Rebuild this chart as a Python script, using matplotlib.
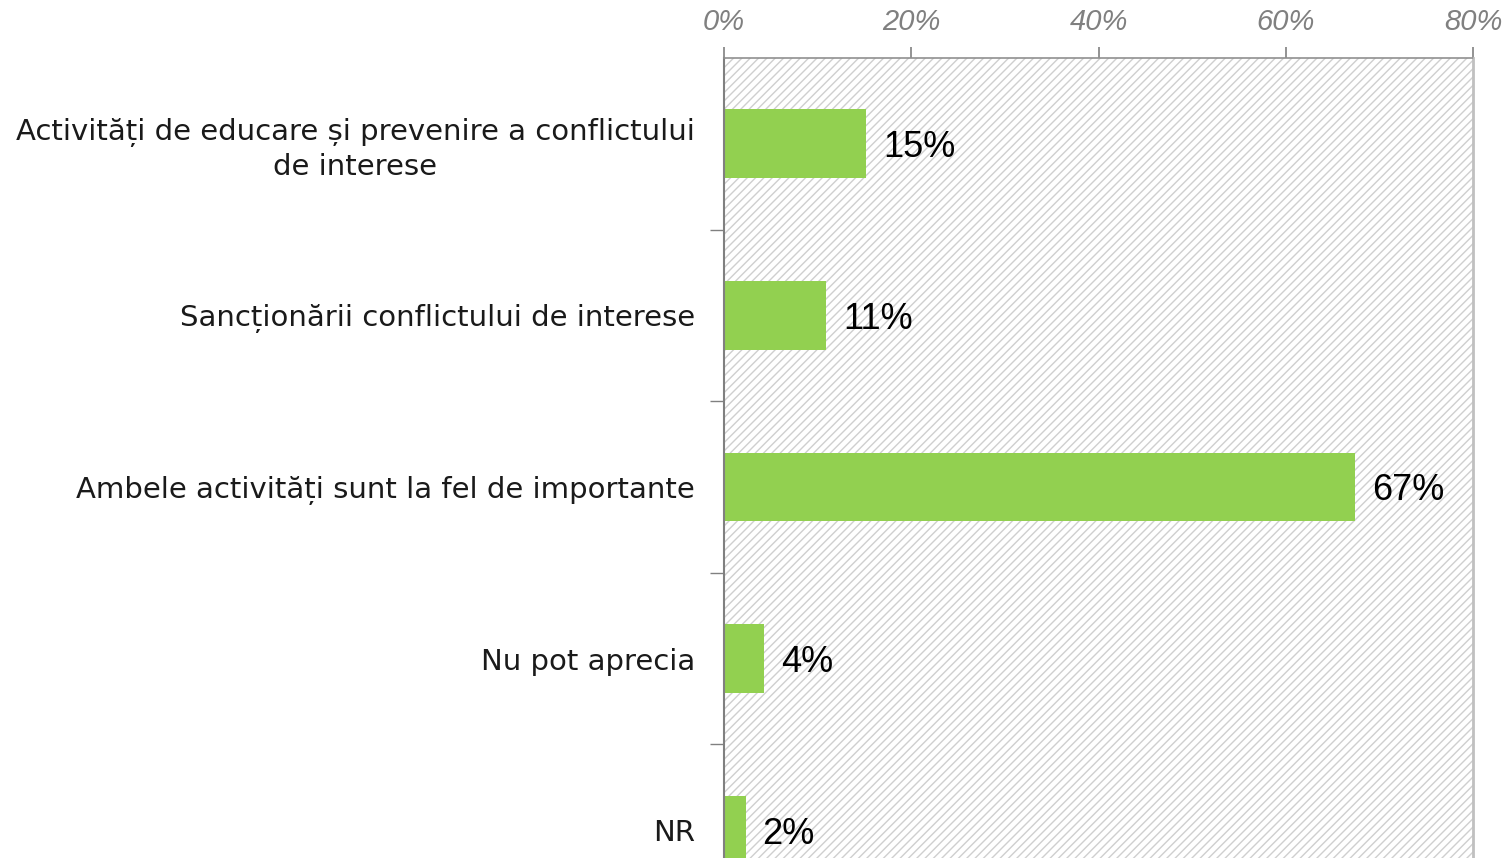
import numpy as np
import matplotlib.pyplot as plt
from matplotlib.patches import Rectangle

categories = ["Activități de educare și prevenire a conflictului\nde interese",
              "Sancționării conflictului de interese",
              "Ambele activități sunt la fel de importante",
              "Nu pot aprecia",
              "NR"]
values = [15.2, 10.9, 67.4, 4.3, 2.3]
labels = ["15%", "11%", "67%", "4%", "2%"]
xticks = [0, 20, 40, 60, 80]

plt.rcParams['hatch.color'] = '#cfcfcf'
plt.rcParams['hatch.linewidth'] = 1.0

fig = plt.figure(figsize=(15.1, 8.58), dpi=100)
ax = fig.add_axes([724 / 1510, 1 - 916 / 858, (1473 - 724) / 1510, 858 / 858])

# hatched plot area
ax.add_patch(Rectangle((0, 0), 1, 1, transform=ax.transAxes, facecolor='white',
                       edgecolor='#cfcfcf', hatch='////', linewidth=0, zorder=0))

y = np.arange(len(categories))
ax.barh(y, values, height=0.4, color='#92D050', zorder=2)
for yi, v, lab in zip(y, values, labels):
    ax.text(v + 1.8, yi, lab, va='center_baseline', ha='left', fontsize=26,
            family='Liberation Sans', color='black', zorder=3)

ax.set_xlim(0, 80)
ax.set_ylim(len(categories) - 0.5, -0.5)
ax.xaxis.tick_top()
ax.set_xticks(xticks)
ax.set_xticklabels([f"{t}%" for t in xticks], fontsize=21, style='italic',
                   color='#808080', family='Liberation Sans')
ax.tick_params(axis='x', length=8, color='#808080', width=1.2, pad=7.5,
               direction='out')
for tl in ax.xaxis.get_ticklines():
    tl.set_linestyle((0, (1, 1.5)))

ax.set_yticks(y)
ax.set_yticklabels(categories, fontsize=21, family='DejaVu Sans',
                   color='#1a1a1a', ha='right', multialignment='center',
                   linespacing=1.25)
ax.tick_params(axis='y', length=0, pad=21)
ax.set_yticks(np.arange(0.5, len(categories) - 1, 1), minor=True)
ax.tick_params(axis='y', which='minor', length=10, color='#808080', width=1)

ax.spines['top'].set_linestyle((0, (1, 1)))
ax.spines['top'].set_color('#909090')
ax.spines['top'].set_linewidth(1.2)
ax.spines['right'].set_color('#c0c0c0')
ax.spines['right'].set_linewidth(2)
ax.spines['left'].set_color('#808080')
ax.spines['left'].set_linewidth(1.5)
ax.spines['bottom'].set_visible(False)

fig.savefig("out.png", dpi=100)
